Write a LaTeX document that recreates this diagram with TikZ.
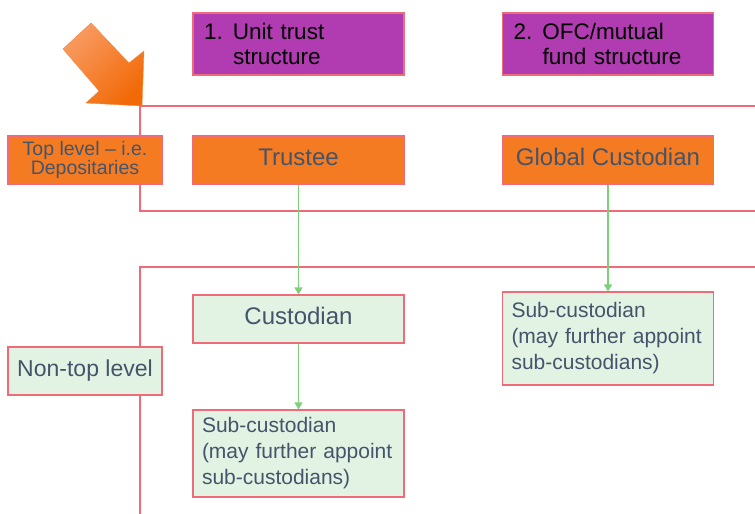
\documentclass[tikz,border=0pt]{standalone}
\usepackage{fontspec}
\setmainfont{Liberation Sans}
\usetikzlibrary{arrows.meta}
\hyphenpenalty=10000

\definecolor{boxpurple}{HTML}{B13BB1}
\definecolor{boxorange}{HTML}{F47B22}
\definecolor{boxgreen}{HTML}{E3F3E3}
\definecolor{borderred}{HTML}{F06B78}
\definecolor{linkgreen}{HTML}{7CD07C}
\definecolor{textblue}{HTML}{44546A}
\definecolor{arrowlight}{HTML}{F89A60}
\definecolor{arrowdark}{HTML}{F26A08}

\tikzset{
	box/.style={draw=borderred, line width=1.2pt, inner sep=0pt, text=textblue,
		minimum width=211pt, minimum height=48pt, font=\fontsize{24}{28}\selectfont},
	oneline/.style={text depth=6pt},
	header/.style={box, fill=boxpurple, text=black, minimum height=62pt,
		align=left, text width=189pt, inner xsep=11pt, font=\fontsize{22.5}{25}\selectfont},
	toplevel/.style={box, oneline, fill=boxorange},
	lowlevel/.style={box, fill=boxgreen},
	subbox/.style={lowlevel, align=left, text width=193pt, inner xsep=9pt,
		font=\fontsize{21}{26}\selectfont},
	sidebox/.style={box, minimum width=154pt},
	band/.style={draw=borderred, line width=1.5pt},
	link/.style={draw=linkgreen, line width=1.3pt, -{Triangle[width=8pt,length=7pt]}}
}

\begin{document}
\begin{tikzpicture}[x=1pt, y=-1pt]
		\useasboundingbox (0, 0) rectangle (755, 514);
		
		% level bands
		\draw[band] (755, 106) -| (140, 211) -- (755, 211);
		\draw[band] (755, 267) -| (140, 514);
		
		% pointer arrow
		\shade[top color=arrowlight, bottom color=arrowdark, shading angle=45, draw=arrowdark!80]
			(63, 49) -- (91, 23) -- (129, 63) -- (144, 51) -- (142, 106) -- (86, 103) -- (99, 91) -- cycle;
		
		% structure headers
		\node[header] (unittrust) at (298.5, 44) {\makebox[29pt][l]{1.}Unit trust\\\hspace*{29pt}structure};
		\node[header] (ofcfund) at (608, 44) {\makebox[29pt][l]{2.}OFC/mutual\\\hspace*{29pt}fund structure};
		
		% level labels
		\node[sidebox, fill=boxorange, align=center, font=\fontsize{19.5}{18}\selectfont] (toplabel) at (85, 160)
			{Top level -- i.e.\\Depositaries};
		\node[sidebox, oneline, fill=boxgreen, font=\fontsize{23}{27}\selectfont] (nontoplabel) at (85, 371) {Non-top level};
		
		% top level
		\node[toplevel] (trustee) at (298.5, 160) {Trustee};
		\node[toplevel] (globalcust) at (608, 160) {Global Custodian};
		
		% non-top level
		\node[lowlevel, oneline] (custodian) at (298.5, 319) {Custodian};
		\node[subbox, minimum height=87pt] (subcustA) at (298.5, 453.5)
			{Sub-custodian\\(may further appoint\\sub-custodians)};
		\node[subbox, minimum height=93pt] (subcustB) at (608, 338.5)
			{Sub-custodian\\(may further appoint\\sub-custodians)};
		
		% appointments
		\draw[link] (trustee) -- (custodian);
		\draw[link] (custodian) -- (subcustA);
		\draw[link] (globalcust) -- (subcustB);
		
	\end{tikzpicture}
\end{document}
